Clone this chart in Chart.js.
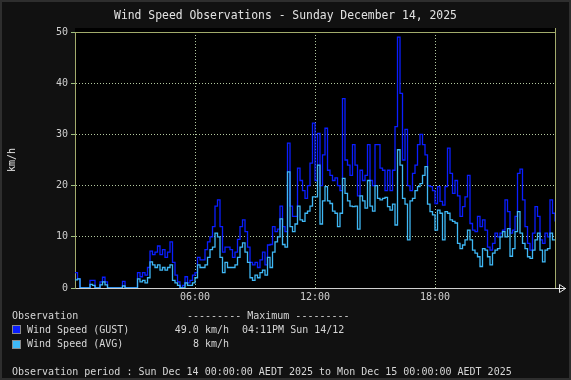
<!DOCTYPE html>
<html><head><meta charset="utf-8">
<script src="https://cdn.jsdelivr.net/npm/chart.js@4/dist/chart.umd.min.js"></script>
<style>
html,body{margin:0;padding:0;background:#111;}
#wrap{position:relative;width:571px;height:380px;background:#111;overflow:hidden;font-family:"DejaVu Sans Mono",monospace;color:#d6d6d6;}
#frame{position:absolute;left:0;top:0;width:571px;height:380px;box-sizing:border-box;border:2px solid #2e2e2e;pointer-events:none;}
canvas{position:absolute;left:0;top:0;}
.t{position:absolute;white-space:pre;line-height:1;font-size:10px;}
.box{position:absolute;left:12px;width:9px;height:9px;box-sizing:border-box;border:1px solid #8a8a8a;}
</style></head>
<body>
<div id="wrap">
<canvas id="c" width="571" height="380"></canvas>
<div class="t" style="left:0;width:571px;text-align:center;top:10px;font-size:11.4px;color:#e2e2e2;">Wind Speed Observations - Sunday December 14, 2025</div>
<div class="t" style="left:-18px;width:60px;text-align:center;top:155px;font-size:10px;transform:rotate(-90deg);color:#e0e0e0;">km/h</div>
<div class="t" style="left:12px;top:311px;">Observation</div>
<div class="t" style="left:187px;top:311px;">--------- Maximum ---------</div>
<div class="box" style="top:325px;background:#0a1eff;"></div>
<div class="t" style="left:27px;top:325px;">Wind Speed (GUST)</div>
<div class="t" style="left:130px;width:99px;text-align:right;top:325px;">49.0 km/h</div>
<div class="t" style="left:242px;top:325px;">04:11PM Sun 14/12</div>
<div class="box" style="top:340px;background:#3fb8f6;"></div>
<div class="t" style="left:27px;top:339px;">Wind Speed (AVG)</div>
<div class="t" style="left:130px;width:99px;text-align:right;top:339px;">8 km/h</div>
<div class="t" style="left:12px;top:367px;">Observation period : Sun Dec 14 00:00:00 AEDT 2025 to Mon Dec 15 00:00:00 AEDT 2025</div>
<div id="frame"></div>
</div>
<script>
// sampling interval of the readings (minutes from midnight)
const stepMinutes = 7.5;
const xTickLabels = ['06:00','12:00','18:00'];

const gustKmh = [
 3,1.8,0,0,0,0,1.5,1.5,
 0,0,1.2,2.1,1.2,0,0,0,
 0,0,0,1.3,0,0,0,0,
 0,3,2.2,3,2.5,4,7.2,6.5,
 7,8.2,6.5,7.5,6,7,9,5,
 2.5,1.2,0,0.5,2.2,1,1.5,2.5,
 3,6,5.5,5.5,7.5,9,10,12,
 16,17.2,12,7,8,8,7.5,6,
 7,9.5,12,13.3,11,8,5,4.5,
 5,4,5.5,7,4.5,8.4,8.5,12,
 11,11.5,16,12,11,28.3,16,14,
 14,23.4,21,19,17.5,20,24.4,32.2,
 21,30.2,20,26,31.2,23,22,21,
 21.5,20,19,37,25,24,22,28,
 24,18,23,21,22,28,21,20,
 28,28,23.4,23,19,23,19,23,
 31.5,49,38,25,31,20,19,22.4,
 24,28,30,28,26,20,19.8,19,
 16.5,19.8,16.9,16.2,19.8,27.3,22.4,18.5,
 21,18,14,15.9,17.8,22,12.6,11.3,
 11,14,12,13.3,11.3,8,7.4,8.7,
 10.7,10,10.7,11.3,17.2,14.9,10.7,11.3,
 14,22.4,23.2,17.2,12,8.7,7.4,10.7,
 15.9,14,9.4,8.7,10.7,10,17.2,14.6,
 13
];
const avgKmh = [
 1.6,1.8,0,0,0,0,0.7,0.5,
 0,0,0.6,1.2,0.6,0,0,0,
 0,0,0,0.4,0,0,0,0,
 0,1.8,1.2,1.5,1,2,5.1,4.5,
 4,4.5,3.5,4,3.5,4,4.5,1.5,
 1,0.5,0,0,1,0.5,0.5,1,
 2,4.5,4,4,4.5,6,7.5,8,
 10.7,10,6,3,5,4,4,4,
 4.5,6,8,8.8,7,5,2,1.5,
 2.5,2,3,3.5,2.5,6,4,7,
 9,10,13.5,8.5,8,22.7,12,11,
 12.5,16,13.3,13,14.6,15,16,17.8,
 17.8,24,12.5,17,19.8,17,16.5,15,
 14.6,12,14.6,21.4,18.5,17,16,15.9,
 16,11.5,18,17,15.6,21,16,15,
 20,17.5,17.2,17.5,17.7,15.9,15.2,16.4,
 12.3,27,24,17.5,16.4,9.4,17,17.5,
 19,19.8,20.4,22,23.7,16.4,14.9,14.3,
 11.3,15.2,14.6,9.4,14.9,14.6,13.3,13,
 12.7,8.7,7.7,8.4,9.4,11.3,9.4,7.4,
 6.8,6.1,4.2,7.7,7.4,6.1,4.5,6.8,
 7.4,7.7,10,11,10,11.6,6.2,7.7,
 11,14.9,10.7,8.7,7.7,6.1,5.8,7.4,
 9.4,10.7,7.4,5.1,7.4,7.7,10.7,9.4,
 9.4
];

const toPts = arr => arr.map((v,i)=>({x:i*stepMinutes, y:v}));

const OLIVE = '#a2ab6c';
const GRID = '#b3c9a0';
const TXT = '#cfcfcf';

const framePlugin = {
  id:'frame',
  beforeDraw(chart){
    const {ctx, chartArea:a} = chart;
    ctx.save();
    ctx.fillStyle='#111'; ctx.fillRect(0,0,chart.width,chart.height);
    ctx.fillStyle='#000'; ctx.fillRect(a.left, a.top-4, a.right-a.left+1, a.bottom-a.top+4);
    ctx.restore();
  },
  afterDatasetsDraw(chart){
    const {ctx, chartArea:a} = chart;
    ctx.save();
    ctx.lineWidth=1;
    ctx.strokeStyle=OLIVE;
    ctx.beginPath();
    ctx.moveTo(a.left, a.top+0.5); ctx.lineTo(a.right+1, a.top+0.5);
    ctx.moveTo(a.right+0.5, a.top-4); ctx.lineTo(a.right+0.5, a.bottom);
    ctx.stroke();
    ctx.strokeStyle='#e6e6e6';
    ctx.beginPath();
    ctx.moveTo(a.right, a.bottom+0.5); ctx.lineTo(a.right+11, a.bottom+0.5);
    ctx.moveTo(a.right+4.5, a.bottom-3.5); ctx.lineTo(a.right+10.5, a.bottom+0.5); ctx.lineTo(a.right+4.5, a.bottom+4.5); ctx.closePath();
    ctx.stroke();
    ctx.restore();
  }
};

new Chart(document.getElementById('c'), {
  type:'line',
  data:{datasets:[
    {label:'Wind Speed (AVG)', data:toPts(avgKmh), borderColor:'#3fb8f6', borderWidth:1.3, pointRadius:0, stepped:'before', fill:false, order:0},
    {label:'Wind Speed (GUST)', data:toPts(gustKmh), borderColor:'#0a1eff', borderWidth:1.3, pointRadius:0, stepped:'before', fill:false, order:1}
  ]},
  options:{
    responsive:false, animation:false, devicePixelRatio:1,
    layout:{padding:{top:32,right:16,left:0,bottom:0}},
    plugins:{legend:{display:false}, tooltip:{enabled:false}, title:{display:false}},
    scales:{
      x:{type:'linear', min:0, max:1440,
         afterFit(s){ s.height = 92; },
         afterBuildTicks(s){ s.ticks = [0,360,720,1080,1440].map(v=>({value:v})); },
         ticks:{autoSkip:false, maxRotation:0, color:TXT, font:{family:'DejaVu Sans Mono', size:10}, padding:3,
                callback:(v)=>{ const i=[360,720,1080].indexOf(v); return i>=0 ? xTickLabels[i] : ''; }},
         grid:{color:c=> (c.tick && (c.tick.value===0||c.tick.value===1440)) ? 'rgba(0,0,0,0)' : GRID, lineWidth:1, drawTicks:false},
         border:{display:true, color:'#d0d0d0', width:1, dash:[1,2]}},
      y:{min:0, max:50,
         afterFit(s){ s.width = 75; },
         ticks:{stepSize:10, color:TXT, font:{family:'DejaVu Sans Mono', size:10}, padding:3},
         grid:{color:c=> (c.tick && (c.tick.value===0||c.tick.value===50)) ? 'rgba(0,0,0,0)' : GRID, lineWidth:1, tickColor:'#9fc07f', tickLength:4, drawTicks:true},
         border:{display:true, color:OLIVE, width:1, dash:[1,2]}}
    }
  },
  plugins:[framePlugin]
});
</script>
</body></html>
